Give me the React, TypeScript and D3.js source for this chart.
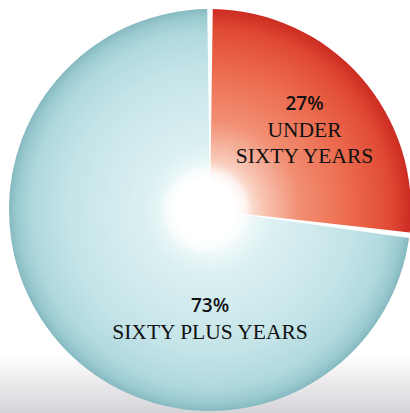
import React from "react";
import * as d3 from "d3";

const categories = ["UNDER SIXTY YEARS", "SIXTY PLUS YEARS"];
const values = [27, 73];
const percentLabels = ["27%", "73%"];
const labelLines = [["UNDER", "SIXTY YEARS"], ["SIXTY PLUS YEARS"]];

const W = 410;
const H = 413;

export default function App() {
  const cx = 210;
  const cy = 210;
  const R = 201;
  const pie = d3.pie<number>().sort(null).value((d) => d)(values);
  const arc = d3
    .arc<d3.PieArcDatum<number>>()
    .innerRadius(0)
    .outerRadius(R)
    .padAngle(0.055)
    .padRadius(100);
  const fills = ["url(#gRed)", "url(#gBlue)"];
  const labelPos = pie.map((p, i) => {
    if (i === 0) {
      const a = (p.startAngle + p.endAngle) / 2;
      const r = 126;
      return [Math.sin(a) * r, -Math.cos(a) * r];
    }
    return [0, 115];
  });
  return (
    <svg
      width={W}
      height={H}
      style={{ position: "absolute", left: 0, top: 0, display: "block" }}
    >
      <defs>
        <linearGradient id="gBg" x1="0" y1="0" x2="0" y2="1">
          <stop offset="0" stopColor="#ffffff" />
          <stop offset="0.86" stopColor="#ffffff" />
          <stop offset="0.93" stopColor="#ebe8eb" />
          <stop offset="1" stopColor="#d4d4d8" />
        </linearGradient>
        <radialGradient id="gRed" gradientUnits="userSpaceOnUse" cx={0} cy={0} r={R}>
          <stop offset="0.18" stopColor="#fde8e0" />
          <stop offset="0.26" stopColor="#f8c6b4" />
          <stop offset="0.45" stopColor="#f18e72" />
          <stop offset="0.7" stopColor="#ec6a4e" />
          <stop offset="0.9" stopColor="#e04a34" />
          <stop offset="1" stopColor="#cc2c22" />
        </radialGradient>
        <radialGradient id="gBlue" gradientUnits="userSpaceOnUse" cx={0} cy={0} r={R}>
          <stop offset="0.18" stopColor="#f3fbfb" />
          <stop offset="0.32" stopColor="#dcf0f2" />
          <stop offset="0.7" stopColor="#c4e4e8" />
          <stop offset="0.88" stopColor="#b0d9de" />
          <stop offset="0.96" stopColor="#9acad0" />
          <stop offset="1" stopColor="#86b9c0" />
        </radialGradient>
        <radialGradient id="gHole" gradientUnits="userSpaceOnUse" cx={cx - 4} cy={cy} r={46}>
          <stop offset="0" stopColor="#ffffff" stopOpacity="1" />
          <stop offset="0.62" stopColor="#ffffff" stopOpacity="1" />
          <stop offset="0.82" stopColor="#ffffff" stopOpacity="0.6" />
          <stop offset="1" stopColor="#ffffff" stopOpacity="0" />
        </radialGradient>
      </defs>
      <rect x={0} y={0} width={W} height={H} fill="url(#gBg)" />
      <g transform={`translate(${cx},${cy})`}>
        {pie.map((p, i) => (
          <path key={categories[i]} d={arc(p) || ""} fill={fills[i]} />
        ))}
      </g>
      <circle cx={cx - 4} cy={cy} r={46} fill="url(#gHole)" />
      <g transform={`translate(${cx},${cy})`}>
        {pie.map((p, i) => {
          const [x, y] = labelPos[i];
          const lines = labelLines[i];
          const top = i === 0 ? y - 17 : y - 13;
          return (
            <g key={"l" + i}>
              <text
                x={x}
                y={top}
                textAnchor="middle"
                fontFamily="'Open Sans', sans-serif"
                fontWeight={600}
                fontSize={19}
                fill="#111"
              >
                {percentLabels[i]}
              </text>
              {lines.map((ln, j) => (
                <text
                  key={j}
                  x={x}
                  y={top + 27 + j * 26}
                  textAnchor="middle"
                  fontFamily="'Liberation Serif', serif"
                  fontSize={21.5}
                  fill="#111"
                >
                  {ln}
                </text>
              ))}
            </g>
          );
        })}
      </g>
    </svg>
  );
}
